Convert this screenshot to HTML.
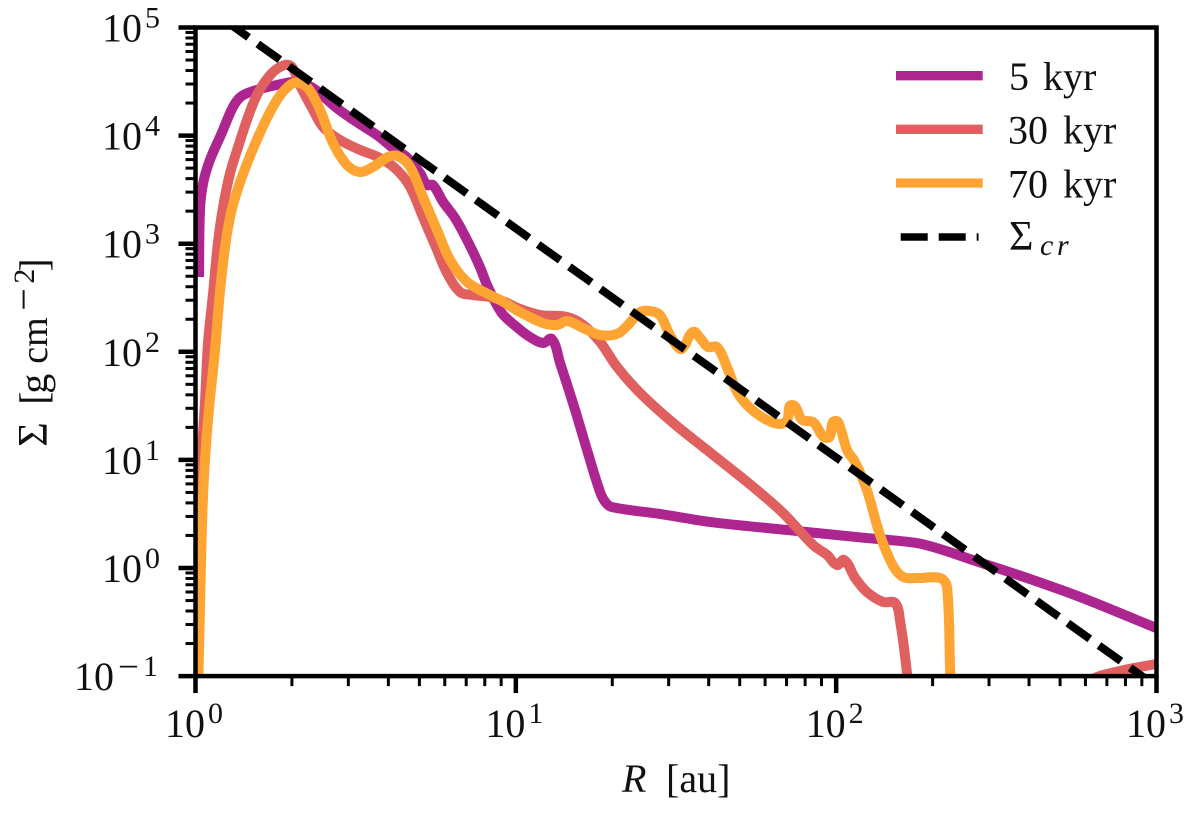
<!DOCTYPE html>
<html lang="en">
<head>
<meta charset="utf-8">
<title>Surface density profiles</title>
<style>
  html, body { margin: 0; padding: 0; background: #fff; }
  svg { display: block; }
  text { font-family: "Liberation Serif", serif; fill: #111; }
</style>
</head>
<body>
<svg id="chart" xmlns="http://www.w3.org/2000/svg" width="1200" height="816" viewBox="0 0 1200 816">
  <defs>
    <clipPath id="plot-clip"><rect x="195.5" y="27.5" width="961" height="648.6"></rect></clipPath>
  </defs>
  <rect width="1200" height="816" fill="#fff"></rect>
  <g id="series-layer" clip-path="url(#plot-clip)"></g>
  <g id="tick-layer"></g>
  <rect x="195.5" y="27.5" width="961" height="648.6" fill="none" stroke="#000" stroke-width="4.5"></rect>

  <g id="legend">
    <g>
      <line x1="896" x2="982.7" y1="75.7" y2="75.7" stroke="#ad2690" stroke-width="9.3"></line>
      <text y="90" font-size="40"><tspan x="1009">5</tspan><tspan x="1043">kyr</tspan></text>
    </g>
    <g>
      <line x1="896" x2="982.7" y1="129.3" y2="129.3" stroke="#e06060" stroke-width="9.3"></line>
      <text y="143.3" font-size="40"><tspan x="1008">30</tspan><tspan x="1063">kyr</tspan></text>
    </g>
    <g>
      <line x1="896" x2="982.7" y1="183" y2="183" stroke="#fea433" stroke-width="9.3"></line>
      <text y="197.3" font-size="40"><tspan x="1008">70</tspan><tspan x="1063">kyr</tspan></text>
    </g>
    <g>
      <line x1="896" x2="978.5" y1="237" y2="237" stroke="#000" stroke-width="7.5" stroke-dasharray="27 11" stroke-dashoffset="33.3"></line>
      <text x="1009" y="250" font-size="42">Σ</text>
      <text y="255" font-size="30" font-style="italic"><tspan x="1040">c</tspan><tspan x="1057">r</tspan></text>
    </g>
  </g>

  <text y="792" font-size="40"><tspan x="622" font-style="italic">R</tspan><tspan x="666">[au]</tspan></text>
  <text transform="translate(47,446.7) rotate(-90)" font-size="40">
    <tspan x="0" y="0" font-size="42">Σ</tspan><tspan x="42" y="0">[</tspan><tspan x="53" y="0">g</tspan><tspan x="83" y="0" font-size="38">cm</tspan><tspan x="136" y="-10">−</tspan><tspan x="163" y="-13" font-size="30">2</tspan><tspan x="175" y="0">]</tspan>
  </text>
</svg>

<script>
// x axis domain and y axis domain, as decade exponents
const xDecades = [0, 1, 2, 3];
const yDecades = [-1, 0, 1, 2, 3, 4, 5];
const minorMultipliers = [2, 3, 4, 5, 6, 7, 8, 9];

const logR5 = [.011,.014,.024,.045,.082,.117,.144,.191,.254,.316,.367,.441,.503,.566,.617,.659,.701,.722,.741,.773,.810,.851,.888,.913,.956,1.003,1.044,1.085,1.112,1.138,1.185,1.225,1.263,1.279,1.299,1.450,1.606,1.783,1.939,2.096,2.252,2.334,2.427,2.615,2.771,2.999];
const logSigma5 = [2.692,3.312,3.562,3.774,4.024,4.265,4.366,4.422,4.468,4.496,4.440,4.255,4.126,4.006,3.885,3.802,3.654,3.543,3.543,3.386,3.238,3.016,2.784,2.599,2.359,2.229,2.137,2.081,2.118,1.897,1.462,1.064,.703,.611,.564,.500,.426,.370,.324,.277,.231,.166,.073,-.112,-.279,-.555];

const logR30 = [.004,.011,.017,.030,.039,.055,.070,.086,.108,.133,.164,.195,.239,.279,.301,.326,.367,.398,.451,.514,.576,.629,.670,.710,.754,.785,.826,.866,.919,.966,1.013,1.076,1.160,1.210,1.263,1.316,1.388,1.491,1.616,1.741,1.834,1.928,1.972,2.003,2.025,2.059,2.096,2.146,2.184,2.199,2.221,2.225,2.777,2.793,2.886,2.999];
const logSigma30 = [-1.05,.074,.907,1.555,2.082,2.545,3.007,3.339,3.654,3.895,4.172,4.394,4.579,4.653,4.635,4.468,4.237,4.080,3.959,3.867,3.793,3.682,3.525,3.247,2.942,2.729,2.553,2.525,2.507,2.461,2.396,2.340,2.322,2.248,2.091,1.860,1.619,1.342,1.046,.750,.509,.213,.120,.028,.074,-.092,-.222,-.314,-.324,-.481,-.971,-1.2,-1.2,-1.045,-.953,-.888];

const logR70 = [.008,.011,.023,.039,.061,.076,.094,.113,.145,.201,.254,.295,.320,.351,.389,.429,.473,.514,.554,.601,.632,.670,.710,.754,.795,.848,.919,.951,1.013,1.085,1.129,1.160,1.210,1.263,1.316,1.350,1.388,1.419,1.450,1.481,1.513,1.528,1.553,1.575,1.600,1.628,1.659,1.691,1.731,1.784,1.825,1.847,1.862,1.894,1.928,1.972,1.990,2.006,2.034,2.059,2.096,2.137,2.178,2.209,2.253,2.325,2.346,2.356,2.359];
const logSigma70 = [-1.13,-.758,.630,1.370,2.017,2.545,3.007,3.312,3.617,4.024,4.329,4.468,4.487,4.440,4.237,3.932,3.728,3.663,3.710,3.802,3.811,3.710,3.432,3.127,2.849,2.646,2.525,2.479,2.368,2.266,2.248,2.285,2.220,2.155,2.165,2.248,2.368,2.377,2.340,2.155,2.026,2.063,2.183,2.128,2.044,2.044,1.860,1.628,1.480,1.369,1.332,1.369,1.508,1.369,1.350,1.202,1.350,1.350,1.091,.980,.721,.304,.018,-.083,-.093,-.093,-.176,-.971,-1.13];

const logRCritical = [0, 3];
const logSigmaCritical = [5.26, -1.097];

const plotLeft = 195.5, plotRight = 1156.5, plotTop = 27.5, plotBottom = 676.1;
const xMinExp = xDecades[0], xMaxExp = xDecades[xDecades.length - 1];
const yMinExp = yDecades[0], yMaxExp = yDecades[yDecades.length - 1];
function xScale(logValue) {
  return plotLeft + (logValue - xMinExp) / (xMaxExp - xMinExp) * (plotRight - plotLeft);
}
function yScale(logValue) {
  return plotBottom - (logValue - yMinExp) / (yMaxExp - yMinExp) * (plotBottom - plotTop);
}

const svgNS = 'http://www.w3.org/2000/svg';
const seriesLayer = document.getElementById('series-layer');
const tickLayer = document.getElementById('tick-layer');

// Smooth path through the points; control arms scale with segment length so no overshoot at knees
function smoothPath(xs, ys) {
  const p = xs.map(function (v, i) { return [xScale(v), yScale(ys[i])]; });
  const n = p.length;
  function tangent(i) {
    const a = p[Math.max(i - 1, 0)], b = p[Math.min(i + 1, n - 1)];
    const dx = b[0] - a[0], dy = b[1] - a[1], len = Math.hypot(dx, dy) || 1;
    return [dx / len, dy / len];
  }
  let d = 'M' + p[0][0].toFixed(2) + ' ' + p[0][1].toFixed(2);
  for (let i = 0; i < n - 1; i++) {
    const seg = Math.hypot(p[i + 1][0] - p[i][0], p[i + 1][1] - p[i][1]) / 3;
    const t0 = tangent(i), t1 = tangent(i + 1);
    d += 'C' + (p[i][0] + t0[0] * seg).toFixed(2) + ' ' + (p[i][1] + t0[1] * seg).toFixed(2) + ' ' +
         (p[i + 1][0] - t1[0] * seg).toFixed(2) + ' ' + (p[i + 1][1] - t1[1] * seg).toFixed(2) + ' ' +
         p[i + 1][0].toFixed(2) + ' ' + p[i + 1][1].toFixed(2);
  }
  return d;
}

function drawSeries(name, xs, ys, color, width, dash) {
  const line = document.createElementNS(svgNS, 'path');
  
  
  line.setAttribute('d', smoothPath(xs, ys));
  line.setAttribute('fill', 'none');
  line.setAttribute('stroke', color);
  line.setAttribute('stroke-width', width);
  line.setAttribute('stroke-linejoin', 'round');
  if (dash) line.setAttribute('stroke-dasharray', dash);
  seriesLayer.appendChild(line);
}
drawSeries('series-5-kyr', logR5, logSigma5, '#ad2690', 10);
drawSeries('series-30-kyr', logR30, logSigma30, '#e06060', 10);
drawSeries('series-70-kyr', logR70, logSigma70, '#fea433', 10);
drawSeries('series-sigma-critical', logRCritical, logSigmaCritical, '#000', 8, '27 11.3');

function addTick(x1, y1, x2, y2, width, name) {
  const tick = document.createElementNS(svgNS, 'line');
  
  
  tick.setAttribute('x1', x1);
  tick.setAttribute('y1', y1);
  tick.setAttribute('x2', x2);
  tick.setAttribute('y2', y2);
  tick.setAttribute('stroke', '#000');
  tick.setAttribute('stroke-width', width);
  tickLayer.appendChild(tick);
}

function addTickLabel(x, y, exponent, name) {
  const label = document.createElementNS(svgNS, 'text');
  
  
  label.setAttribute('x', x);
  label.setAttribute('y', y);
  label.setAttribute('font-size', '40');
  label.appendChild(document.createTextNode('10'));
  let supX = x + 43;
  if (exponent < 0) {
    const minus = document.createElementNS(svgNS, 'tspan');
    minus.setAttribute('x', x + 44);
    minus.setAttribute('y', y - 11.3);
    minus.setAttribute('font-size', '37');
    minus.textContent = '\u2212';
    label.appendChild(minus);
    supX = x + 69;
  }
  const sup = document.createElementNS(svgNS, 'tspan');
  sup.setAttribute('x', supX);
  sup.setAttribute('y', y - 14);
  sup.setAttribute('font-size', '30');
  sup.textContent = String(Math.abs(exponent));
  label.appendChild(sup);
  tickLayer.appendChild(label);
}

xDecades.forEach(function (exp, i) {
  const px = xScale(exp);
  addTick(px, plotBottom, px, plotBottom + 17, 4.5, 'x-major-tick');
  addTickLabel(px - 30.5, 737, exp, 'x-tick-label');
  if (i < xDecades.length - 1) {
    minorMultipliers.forEach(function (m) {
      const mx = xScale(exp + Math.log10(m));
      addTick(mx, plotBottom, mx, plotBottom + 10, 3, 'x-minor-tick');
    });
  }
});

yDecades.forEach(function (exp, i) {
  const py = yScale(exp);
  addTick(plotLeft, py, plotLeft - 17, py, 4.5, 'y-major-tick');
  addTickLabel(exp < 0 ? 74 : 102, py + 14, exp, 'y-tick-label');
  if (i < yDecades.length - 1) {
    minorMultipliers.forEach(function (m) {
      const my = yScale(exp + Math.log10(m));
      addTick(plotLeft, my, plotLeft - 10, my, 3, 'y-minor-tick');
    });
  }
});
</script>
</body>
</html>
